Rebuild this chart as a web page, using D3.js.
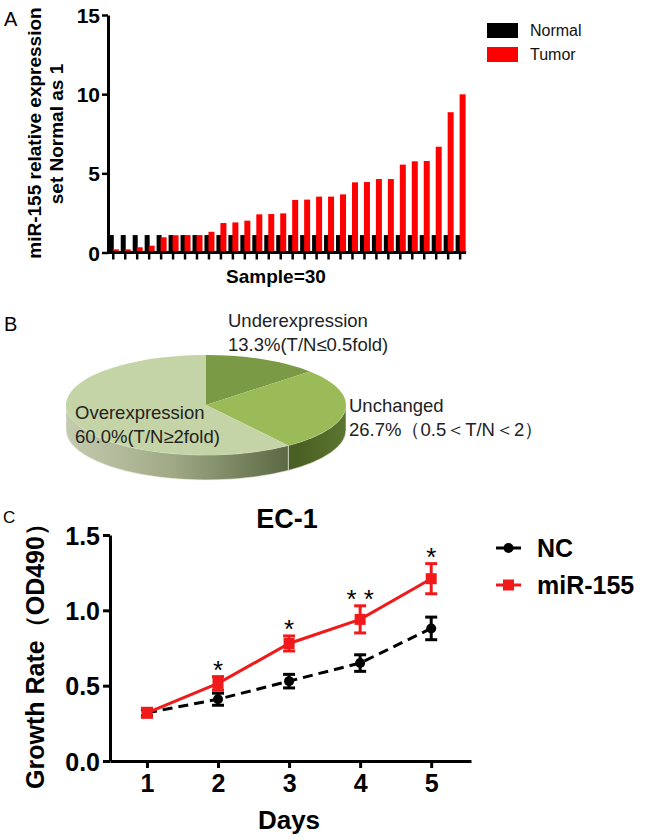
<!DOCTYPE html>
<html><head><meta charset="utf-8">
<script src="https://cdn.jsdelivr.net/npm/d3@7"></script>
<style>body{margin:0;background:#fff} text{font-family:"Liberation Sans",Arial,sans-serif}</style>
</head><body><svg id="c" width="650" height="840"></svg>
<script>
// ---------- Panel A data ----------
const samples = ["1","2","3","4","5","6","7","8","9","10","11","12","13","14","15","16","17","18","19","20","21","22","23","24","25","26","27","28","29","30"];
const normalValues = [1.1,1.1,1.1,1.1,1.1,1.1,1.1,1.1,1.1,1.1,1.1,1.1,1.1,1.1,1.1,1.1,1.1,1.1,1.1,1.1,1.1,1.1,1.1,1.1,1.1,1.1,1.1,1.1,1.1,1.1];
const tumorValues = [0.2,0.2,0.33,0.43,0.96,1.09,1.1,1.1,1.31,1.86,1.9,2.01,2.41,2.43,2.47,3.32,3.34,3.53,3.53,3.67,4.43,4.45,4.64,4.64,5.55,5.76,5.78,6.68,8.86,9.99];
const seriesA = ["Normal","Tumor"];
const yTicksA = [0,5,10,15];
// ---------- Panel B data ----------
const pieLabels = ["Underexpression","Unchanged","Overexpression"];
const pieValues = [13.3,26.7,60.0];
const pieDetails = ["13.3%(T/N≤0.5fold)","26.7%（0.5＜T/N＜2）","60.0%(T/N≥2fold)"];
// ---------- Panel C data ----------
const days = [1,2,3,4,5];
const ncMean = [0.32,0.41,0.53,0.65,0.88];
const ncErr = [0.02,0.04,0.045,0.055,0.075];
const mirMean = [0.32,0.515,0.78,0.94,1.21];
const mirErr = [0.03,0.045,0.05,0.09,0.1];
const sigMarks = ["","*","*","* *","*"];
const yTicksC = [0,0.5,1.0,1.5];

const svg = d3.select("#c");
const RED = "#ff0000";

// ================= Panel A =================
svg.append("text").attr("x",4).attr("y",26).attr("font-size",20).text("A");
const xA = d3.scaleBand().domain(samples).range([107.3,466.1]);
const yA = d3.scaleLinear().domain([0,15]).range([252.5,15]);
const gA = svg.append("g");
gA.selectAll("rect.n").data(normalValues).join("rect")
  .attr("x",(d,i)=>xA(samples[i])+xA.bandwidth()/2-4.5).attr("width",5)
  .attr("y",d=>yA(d)).attr("height",d=>yA(0)-yA(d)).attr("fill","#000");
gA.selectAll("rect.t").data(tumorValues).join("rect")
  .attr("x",(d,i)=>xA(samples[i])+xA.bandwidth()/2-0.5).attr("width",6)
  .attr("y",d=>yA(d)).attr("height",d=>yA(0)-yA(d)).attr("fill",RED);
const axA = gA.append("g").attr("transform","translate(0,252.5)")
  .call(d3.axisBottom(xA).tickSize(7).tickSizeOuter(0).tickFormat(""));
const ayA = gA.append("g").attr("transform","translate(108,0)")
  .call(d3.axisLeft(yA).tickValues(yTicksA).tickSize(6).tickSizeOuter(0).tickPadding(2));
[axA,ayA].forEach(a=>{a.select(".domain").attr("stroke-width",3);a.selectAll(".tick line").attr("stroke-width",2.5);});
axA.select(".domain").attr("d","M107.3,0H466.1");
ayA.selectAll(".tick text").attr("font-size",21).attr("font-weight","bold").attr("fill","#000").attr("dy","0.36em");
gA.append("text").attr("transform","translate(41,133) rotate(-90)").attr("text-anchor","middle")
  .attr("font-size",19).attr("font-weight","bold").text("miR-155 relative expression");
gA.append("text").attr("transform","translate(63,134) rotate(-90)").attr("text-anchor","middle")
  .attr("font-size",19).attr("font-weight","bold").text("set Normal as 1");
gA.append("text").attr("x",276).attr("y",283).attr("text-anchor","middle")
  .attr("font-size",19).attr("font-weight","bold").text("Sample=30");
const legA = gA.append("g");
seriesA.forEach((s,i)=>{
  legA.append("rect").attr("x",487).attr("y",23+i*24).attr("width",31).attr("height",15).attr("fill",i?RED:"#000");
  legA.append("text").attr("x",530).attr("y",36+i*24).attr("font-size",16).attr("fill","#111").text(s);
});

// ================= Panel B =================
svg.append("text").attr("x",4).attr("y",331).attr("font-size",20).text("B");
const cx=206, cy=405, rx=140, ry=50, depth=25;
const pieArcs = d3.pie().sort(null).value(d=>d)(pieValues);
const pt = (a,dy=0)=>[cx+rx*Math.sin(a), cy-ry*Math.cos(a)+dy];
const defs = svg.append("defs");
const g1 = defs.append("linearGradient").attr("id","sideOver").attr("gradientUnits","userSpaceOnUse")
  .attr("x1",66).attr("x2",298).attr("y1",0).attr("y2",0);
g1.append("stop").attr("offset",0).attr("stop-color","#c4cbae");
g1.append("stop").attr("offset",0.45).attr("stop-color","#a0aa87");
g1.append("stop").attr("offset",1).attr("stop-color","#56633e");
const g2 = defs.append("linearGradient").attr("id","sideUnch").attr("gradientUnits","userSpaceOnUse")
  .attr("x1",298).attr("x2",346).attr("y1",0).attr("y2",0);
g2.append("stop").attr("offset",0).attr("stop-color","#4a5f22");
g2.append("stop").attr("offset",1).attr("stop-color","#5c7630");
const topColors = ["#7a9a45","#9bbb59","#c4d4a6"];
const sideFills = [null,"url(#sideUnch)","url(#sideOver)"];
const gB = svg.append("g");
pieArcs.forEach((a,i)=>{
  const s0 = Math.max(a.startAngle, Math.PI/2), s1 = Math.min(a.endAngle, 3*Math.PI/2);
  if (s0 < s1) {
    const p0=pt(s0), p1=pt(s1), q1=pt(s1,depth), q0=pt(s0,depth);
    gB.append("path").attr("d",`M${p0}A${rx},${ry} 0 0 1 ${p1}L${q1}A${rx},${ry} 0 0 0 ${q0}Z`)
      .attr("fill",sideFills[i]).attr("stroke","#eef0e6").attr("stroke-width",0.6);
  }
});
pieArcs.forEach((a,i)=>{
  const p0=pt(a.startAngle), p1=pt(a.endAngle);
  const large = (a.endAngle-a.startAngle)>Math.PI?1:0;
  gB.append("path").attr("d",`M${cx},${cy}L${p0}A${rx},${ry} 0 ${large} 1 ${p1}Z`)
    .attr("fill",topColors[i]);
});
const labPos = [[228,327],[349,412],[75,419]];
pieLabels.forEach((l,i)=>{
  gB.append("text").attr("x",labPos[i][0]).attr("y",labPos[i][1]).attr("font-size",18.5).attr("fill","#222").text(l);
  gB.append("text").attr("x",labPos[i][0]).attr("y",labPos[i][1]+24).attr("font-size",18.5).attr("fill","#222").text(pieDetails[i]);
});

// ================= Panel C =================
svg.append("text").attr("x",3).attr("y",523).attr("font-size",17).text("C");
const xC = d3.scaleLinear().domain([0.48,5.56]).range([110,471]);
const yC = d3.scaleLinear().domain([0,1.5]).range([761,535]);
const gC = svg.append("g");
const axC = gC.append("g").attr("transform","translate(0,761)")
  .call(d3.axisBottom(xC).tickValues(days).tickFormat(d3.format("d")).tickSize(7).tickSizeOuter(0).tickPadding(6));
const ayC = gC.append("g").attr("transform","translate(110,0)")
  .call(d3.axisLeft(yC).tickValues(yTicksC).tickFormat(d3.format(".1f")).tickSize(7).tickSizeOuter(0).tickPadding(3));
[axC,ayC].forEach(a=>{
  a.select(".domain").attr("stroke-width",3);
  a.selectAll(".tick line").attr("stroke-width",3);
  a.selectAll(".tick text").attr("font-size",25).attr("font-weight","bold").attr("fill","#000");
});
ayC.selectAll(".tick text").attr("dy","0.36em");
gC.append("text").attr("x",287).attr("y",528).attr("text-anchor","middle").attr("font-size",27).attr("font-weight","bold").text("EC-1");
gC.append("text").attr("x",289).attr("y",829).attr("text-anchor","middle").attr("font-size",26).attr("font-weight","bold").text("Days");
gC.append("text").attr("transform","translate(44,650) rotate(-90)").attr("text-anchor","middle")
  .attr("font-size",25).attr("font-weight","bold").text("Growth Rate（OD490）");

function series(mean, err, color, dashed, square) {
  const g = gC.append("g");
  const line = d3.line().x((d,i)=>xC(days[i])).y(d=>yC(d));
  g.append("path").datum(mean).attr("d",line).attr("fill","none").attr("stroke",color)
    .attr("stroke-width",3).attr("stroke-dasharray",dashed?"10,6":null);
  mean.forEach((m,i)=>{
    const x = xC(days[i]);
    g.append("line").attr("x1",x).attr("x2",x).attr("y1",yC(m-err[i])).attr("y2",yC(m+err[i])).attr("stroke",color).attr("stroke-width",3);
    [m-err[i], m+err[i]].forEach(v=>g.append("line").attr("x1",x-6).attr("x2",x+6).attr("y1",yC(v)).attr("y2",yC(v)).attr("stroke",color).attr("stroke-width",3));
    if (square) g.append("rect").attr("x",x-5.5).attr("y",yC(m)-5.5).attr("width",11).attr("height",11).attr("fill",color);
    else g.append("circle").attr("cx",x).attr("cy",yC(m)).attr("r",5).attr("fill",color);
  });
}
series(ncMean, ncErr, "#000", true, false);
series(mirMean, mirErr, "#f01a1a", false, true);
sigMarks.forEach((s,i)=>{
  if (!s) return;
  gC.append("text").attr("x",xC(days[i])).attr("y",yC(mirMean[i]+mirErr[i])+2).attr("text-anchor","middle")
    .attr("font-size",26).attr("fill","#000").text(s);
});
// legend C
const legC = [["NC","#000",false],["miR-155","#f01a1a",true]];
legC.forEach((d,i)=>{
  const y = 548+i*37;
  gC.append("line").attr("x1",496).attr("x2",521).attr("y1",y).attr("y2",y).attr("stroke",d[1]).attr("stroke-width",3);
  if (d[2]) gC.append("rect").attr("x",503).attr("y",y-5.5).attr("width",11).attr("height",11).attr("fill",d[1]);
  else gC.append("circle").attr("cx",508.5).attr("cy",y).attr("r",5).attr("fill",d[1]);
  gC.append("text").attr("x",537).attr("y",y+9).attr("font-size",25).attr("font-weight","bold").text(d[0]);
});
</script></body></html>
